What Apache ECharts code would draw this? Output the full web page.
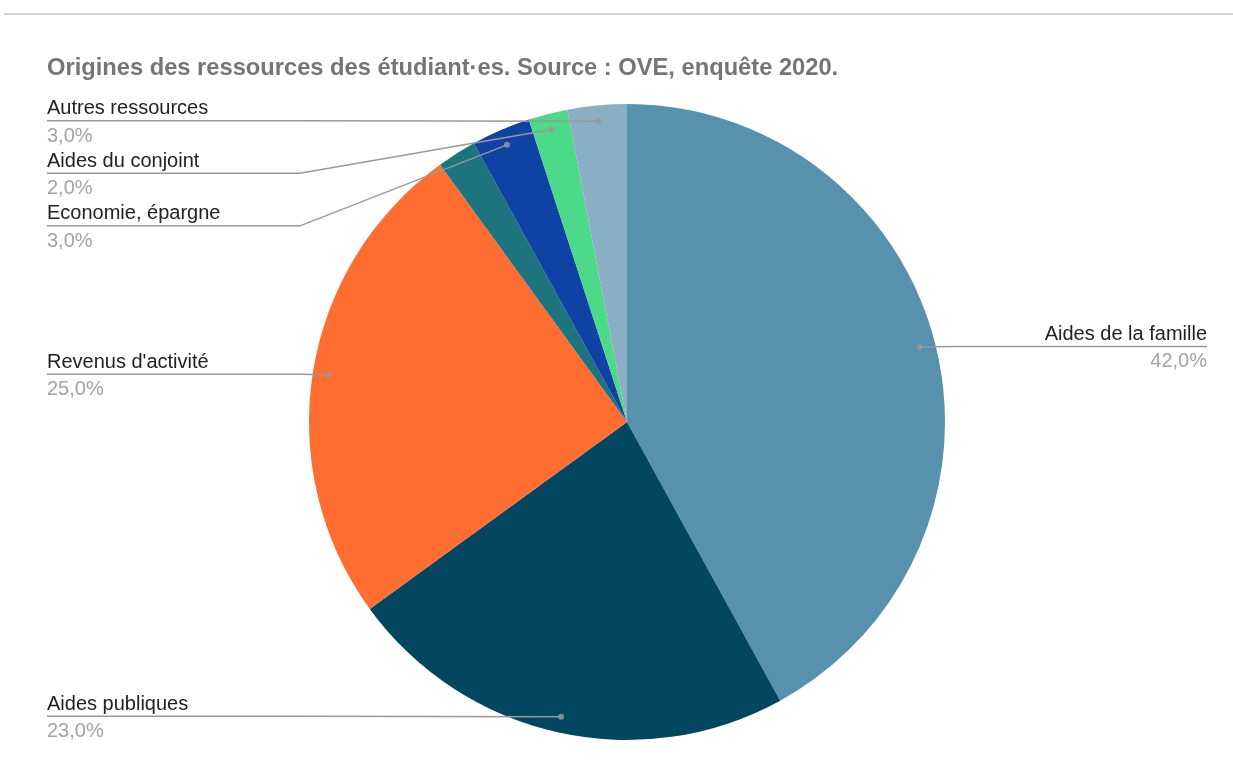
<!DOCTYPE html>
<html>
<head>
<meta charset="utf-8">
<script src="https://cdn.jsdelivr.net/npm/echarts@6/dist/echarts.min.js"></script>
<style>
  html, body { margin: 0; padding: 0; background: #fff; }
  #chart { width: 1233px; height: 772px; }
  #topline { position: absolute; left: 4px; right: 0; top: 13px; height: 2px; background: #d6d6d6; }
</style>
</head>
<body>
<div id="chart"></div>
<div id="topline"></div>
<script>
// ---- data ----
const categories = [
  "Aides de la famille",
  "Aides publiques",
  "Revenus d'activité",
  "Autres aides",
  "Economie, épargne",
  "Aides du conjoint",
  "Autres ressources"
];
const values = [42, 23, 25, 2, 3, 2, 3];
const labelShown = [true, true, true, false, true, true, true];
const colors = ["#5891ad", "#02465f", "#ff6d31", "#1d737e", "#0e42a5", "#4cd989", "#8aafc5"];
const titleText = "Origines des ressources des étudiant·es. Source : OVE, enquête 2020.";

// ---- layout constants ----
const CX = 627, CY = 422, R = 318, R_DOT = 302, BEND = 327;
const NAME_LH = 30, PCT_LH = 25;

const total = values.reduce((a, b) => a + b, 0);
let cum = 0;
const dotData = values.map(v => { const mid = cum + v / 2; cum += v; return [R_DOT, mid]; })
  .filter((d, i) => labelShown[i]);

const chart = echarts.init(document.getElementById('chart'));
chart.setOption({
  animation: false,
  title: {
    text: titleText,
    left: 47,
    top: 56,
    padding: 0,
    textStyle: { fontFamily: 'Liberation Sans, Arial, sans-serif', fontSize: 23.7, fontWeight: 'bold', color: '#757575' }
  },
  polar: { center: [CX, CY], radius: R },
  angleAxis: {
    type: 'value', min: 0, max: total, startAngle: 90, clockwise: true,
    axisLine: { show: false }, axisTick: { show: false }, axisLabel: { show: false }, splitLine: { show: false }
  },
  radiusAxis: {
    type: 'value', min: 0, max: R,
    axisLine: { show: false }, axisTick: { show: false }, axisLabel: { show: false }, splitLine: { show: false }
  },
  series: [
    {
      type: 'pie',
      z: 1,
      center: [CX, CY],
      radius: R,
      startAngle: 90,
      clockwise: true,
      silent: true,
      label: { show: false },
      labelLine: { show: false },
      itemStyle: { borderWidth: 0 },
      emphasis: { disabled: true },
      data: categories.map((c, i) => ({ name: c, value: values[i], itemStyle: { color: colors[i] } }))
    },
    {
      type: 'pie',
      z: 3,
      left: 21, top: 0, right: 0, bottom: 0,
      center: [CX - 21, CY],
      radius: R_DOT,
      startAngle: 90,
      clockwise: true,
      silent: true,
      emphasis: { disabled: true },
      percentPrecision: 1,
      itemStyle: { color: 'rgba(0,0,0,0)', borderWidth: 0 },
      label: {
        show: true,
        alignTo: 'edge',
        edgeDistance: 26,
        minMargin: 5,
        formatter: p => '{n|' + p.name + '}\n{p|' + p.percent.toFixed(1).replace('.', ',') + '%}',
        rich: {
          n: { fontFamily: 'Liberation Sans, Arial, sans-serif', fontSize: 20, color: '#222222', lineHeight: NAME_LH },
          p: { fontFamily: 'Liberation Sans, Arial, sans-serif', fontSize: 20, color: '#a3a3a3', lineHeight: PCT_LH }
        }
      },
      labelLine: { show: true, length: 0, length2: 10, lineStyle: { color: '#999999', width: 1.5 } },
      labelLayout: function (p) {
        const pts = p.labelLinePoints;
        if (!pts) return {};
        const r = p.labelRect;
        const isLeft = r.x + r.width / 2 < CX;
        const lineY = r.y + 22;
        const bendX = isLeft ? CX - BEND : CX + BEND;
        return {
          labelLinePoints: [pts[0], [bendX, lineY], [isLeft ? r.x : r.x + r.width, lineY]]
        };
      },
      data: categories.map((c, i) => labelShown[i]
        ? { name: c, value: values[i] }
        : { name: c, value: values[i], label: { show: false }, labelLine: { show: false } })
    },
    {
      type: 'scatter',
      coordinateSystem: 'polar',
      symbol: 'circle',
      symbolSize: 6,
      silent: true,
      itemStyle: { color: '#9a9a9a' },
      data: dotData,
      z: 5
    }
  ]
});
</script>
</body>
</html>
